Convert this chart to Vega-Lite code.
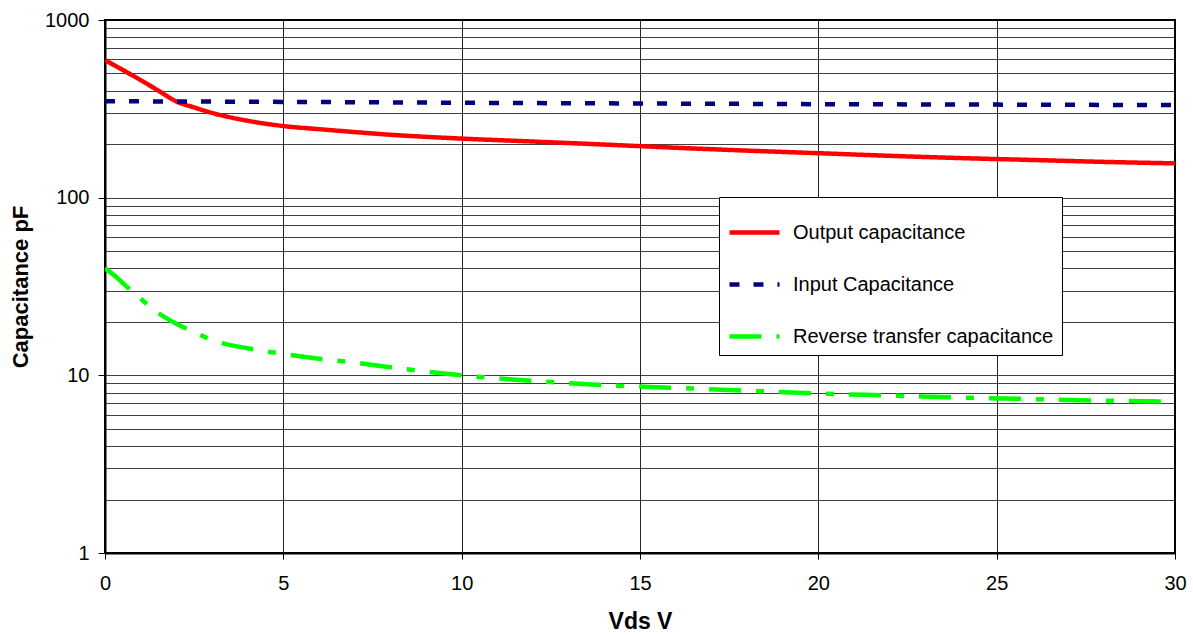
{
  "$schema": "https://vega.github.io/schema/vega-lite/v6.json",
  "width": 1070,
  "height": 533,
  "autosize": "none",
  "padding": {"left": 105, "top": 20, "right": 18, "bottom": 82},
  "background": "white",
  "config": {
    "font": "Liberation Sans",
    "view": {"stroke": "#000", "strokeWidth": 2}
  },
  "data": {
    "values": [
      {"v": 0, "c": 595, "s": "Output capacitance"},
      {"v": 0.5, "c": 523, "s": "Output capacitance"},
      {"v": 1, "c": 459, "s": "Output capacitance"},
      {"v": 1.5, "c": 400, "s": "Output capacitance"},
      {"v": 2, "c": 348, "s": "Output capacitance"},
      {"v": 2.5, "c": 322, "s": "Output capacitance"},
      {"v": 3, "c": 300, "s": "Output capacitance"},
      {"v": 4, "c": 271, "s": "Output capacitance"},
      {"v": 5, "c": 253, "s": "Output capacitance"},
      {"v": 6, "c": 243, "s": "Output capacitance"},
      {"v": 7, "c": 234, "s": "Output capacitance"},
      {"v": 8, "c": 226, "s": "Output capacitance"},
      {"v": 9, "c": 220, "s": "Output capacitance"},
      {"v": 10, "c": 215, "s": "Output capacitance"},
      {"v": 12, "c": 207, "s": "Output capacitance"},
      {"v": 14, "c": 199, "s": "Output capacitance"},
      {"v": 16, "c": 191, "s": "Output capacitance"},
      {"v": 18, "c": 184, "s": "Output capacitance"},
      {"v": 20, "c": 178, "s": "Output capacitance"},
      {"v": 22, "c": 172, "s": "Output capacitance"},
      {"v": 24, "c": 167, "s": "Output capacitance"},
      {"v": 26, "c": 163, "s": "Output capacitance"},
      {"v": 28, "c": 159, "s": "Output capacitance"},
      {"v": 30, "c": 156, "s": "Output capacitance"},
      {"v": 0, "c": 349, "s": "Input Capacitance"},
      {"v": 5, "c": 346, "s": "Input Capacitance"},
      {"v": 10, "c": 342, "s": "Input Capacitance"},
      {"v": 15, "c": 339, "s": "Input Capacitance"},
      {"v": 20, "c": 336, "s": "Input Capacitance"},
      {"v": 25, "c": 334, "s": "Input Capacitance"},
      {"v": 30, "c": 332, "s": "Input Capacitance"},
      {"v": 0, "c": 40, "s": "Reverse transfer capacitance"},
      {"v": 0.3, "c": 36, "s": "Reverse transfer capacitance"},
      {"v": 0.5, "c": 33, "s": "Reverse transfer capacitance"},
      {"v": 1, "c": 27, "s": "Reverse transfer capacitance"},
      {"v": 1.5, "c": 22.4, "s": "Reverse transfer capacitance"},
      {"v": 2, "c": 19.5, "s": "Reverse transfer capacitance"},
      {"v": 2.5, "c": 17.5, "s": "Reverse transfer capacitance"},
      {"v": 3, "c": 15.8, "s": "Reverse transfer capacitance"},
      {"v": 4, "c": 14.2, "s": "Reverse transfer capacitance"},
      {"v": 5, "c": 13.2, "s": "Reverse transfer capacitance"},
      {"v": 6, "c": 12.4, "s": "Reverse transfer capacitance"},
      {"v": 7, "c": 11.8, "s": "Reverse transfer capacitance"},
      {"v": 8, "c": 11.1, "s": "Reverse transfer capacitance"},
      {"v": 9, "c": 10.5, "s": "Reverse transfer capacitance"},
      {"v": 10, "c": 10.0, "s": "Reverse transfer capacitance"},
      {"v": 12, "c": 9.3, "s": "Reverse transfer capacitance"},
      {"v": 14, "c": 8.8, "s": "Reverse transfer capacitance"},
      {"v": 16, "c": 8.5, "s": "Reverse transfer capacitance"},
      {"v": 18, "c": 8.2, "s": "Reverse transfer capacitance"},
      {"v": 20, "c": 7.9, "s": "Reverse transfer capacitance"},
      {"v": 22, "c": 7.7, "s": "Reverse transfer capacitance"},
      {"v": 24, "c": 7.5, "s": "Reverse transfer capacitance"},
      {"v": 26, "c": 7.35, "s": "Reverse transfer capacitance"},
      {"v": 28, "c": 7.2, "s": "Reverse transfer capacitance"},
      {"v": 30, "c": 7.1, "s": "Reverse transfer capacitance"}
    ]
  },
  "mark": {"type": "line", "interpolate": "monotone", "strokeWidth": 4.5, "clip": true},
  "encoding": {
    "x": {
      "field": "v",
      "type": "quantitative",
      "scale": {"domain": [0, 30], "nice": false, "zero": false},
      "axis": {
        "values": [0, 5, 10, 15, 20, 25, 30],
        "title": "Vds  V",
        "titleFontSize": 23,
        "titleFontWeight": "bold",
        "titleColor": "#000",
        "titlePadding": 17,
        "labelFontSize": 20,
        "labelColor": "#000",
        "labelPadding": 14,
        "labelFlush": false,
        "tickSize": 6,
        "tickColor": "#000",
        "domainColor": "#000",
        "domainWidth": 2,
        "grid": true,
        "gridColor": "#000",
        "gridOpacity": 0.85,
        "gridWidth": 1
      }
    },
    "y": {
      "field": "c",
      "type": "quantitative",
      "scale": {"type": "log", "domain": [1, 1000], "nice": false},
      "axis": {
        "values": [1, 2, 3, 4, 5, 6, 7, 8, 9, 10, 20, 30, 40, 50, 60, 70, 80, 90, 100, 200, 300, 400, 500, 600, 700, 800, 900, 1000],
        "labelExpr": "(datum.value == 1 || datum.value == 10 || datum.value == 100 || datum.value == 1000) ? datum.label : ''",
        "format": "d",
        "title": "Capacitance pF",
        "titleFontSize": 22,
        "titleFontWeight": "bold",
        "titleColor": "#000",
        "titlePadding": 12,
        "labelFontSize": 20,
        "labelColor": "#000",
        "labelPadding": 9,
        "labelFlush": false,
        "labelOverlap": false,
        "tickSize": {"condition": {"test": "datum.value == 1 || datum.value == 10 || datum.value == 100 || datum.value == 1000", "value": 7}, "value": 0},
        "tickColor": "#000",
        "domainColor": "#000",
        "domainWidth": 2,
        "grid": true,
        "gridColor": "#000",
        "gridOpacity": 0.75,
        "gridWidth": 1
      }
    },
    "color": {
      "field": "s",
      "type": "nominal",
      "scale": {
        "domain": ["Output capacitance", "Input Capacitance", "Reverse transfer capacitance"],
        "range": ["#ff0000", "#000080", "#00ff00"]
      },
      "legend": {
        "title": null,
        "orient": "none",
        "legendX": 614,
        "legendY": 177,
        "fillColor": "white",
        "strokeColor": "#000",
        "padding": 8,
        "symbolType": "stroke",
        "symbolSize": 2500,
        "symbolStrokeWidth": 4.5,
        "labelFontSize": 20,
        "labelColor": "#000",
        "labelOffset": 11,
        "rowPadding": 14,
        "labelLimit": 400
      }
    },
    "strokeDash": {
      "field": "s",
      "type": "nominal",
      "scale": {
        "domain": ["Output capacitance", "Input Capacitance", "Reverse transfer capacitance"],
        "range": [[1, 0], [10, 14], [32, 15, 8, 15]]
      },
      "legend": null
    }
  }
}
